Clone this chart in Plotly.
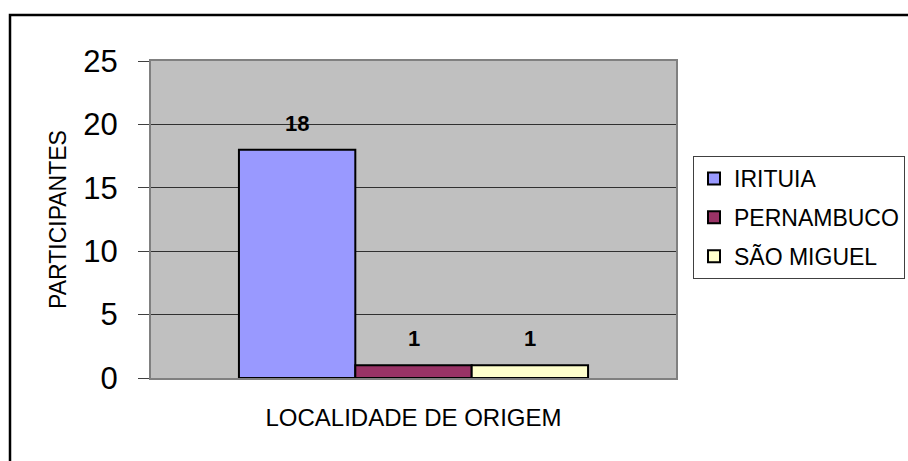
import plotly.graph_objects as go

# ---- data ----
series_names = ["IRITUIA", "PERNAMBUCO", "SÃO MIGUEL"]
series_values = [18, 1, 1]
series_colors = ["#9999FF", "#993366", "#FFFFCC"]
category = [""]
y_ticks = [0, 5, 10, 15, 20, 25]
x_title = "LOCALIDADE DE ORIGEM"
y_title = "PARTICIPANTES"

FONT = "Arial, Liberation Sans, sans-serif"
W, H = 908, 461
ML, MR, MT, MB = 151, 908 - 676, 61, 461 - 378
BARGAP = 0.335

fig = go.Figure()
for name, val, col in zip(series_names, series_values, series_colors):
    fig.add_trace(go.Bar(
        x=category, y=[val], name=name,
        marker=dict(color=col, line=dict(color="black", width=2)),
        legendgroup=name,
        hoverinfo="name+y",
    ))

# data labels, positioned through the category axis (group offsets from bargap)
n = len(series_names)
w = (1 - BARGAP) / n
for i, val in enumerate(series_values):
    fig.add_annotation(
        x=(i - (n - 1) / 2) * w, y=val, xref="x", yref="y",
        text=f"<b>{val}</b>", showarrow=False,
        yanchor="bottom", yshift=12,
        font=dict(family=FONT, size=22, color="black"),
    )

pw = W - ML - MR
ph = H - MT - MB
# outer chart border (left at x=10, top at y=15, running off the page)
fig.add_shape(
    type="rect", xref="paper", yref="paper",
    x0=(10 - ML) / pw, x1=(W + 10 - ML) / pw,
    y0=(H - MB - (H + 10)) / ph, y1=(H - MB - 15) / ph,
    line=dict(color="black", width=2.5), layer="below",
)

fig.update_layout(
    width=W, height=H,
    margin=dict(l=ML, r=MR, t=MT, b=MB, pad=0, autoexpand=False),
    paper_bgcolor="white", plot_bgcolor="#C0C0C0",
    barmode="group", bargap=BARGAP, bargroupgap=0,
    font=dict(family=FONT, color="black"),
    showlegend=True,
    legend=dict(
        x=(693 - ML) / pw, y=(H - MB - 156) / ph,
        xanchor="left", yanchor="top",
        bgcolor="white", bordercolor="#404040", borderwidth=1,
        font=dict(family=FONT, size=23, color="black"),
        tracegroupgap=6, traceorder="grouped",
        itemwidth=30,
    ),
    xaxis=dict(
        showticklabels=False, ticks="", showgrid=False,
        showline=True, linecolor="#808080", linewidth=2, mirror=True,
        title=dict(text=x_title, font=dict(family=FONT, size=24), standoff=30),
        fixedrange=True,
    ),
    yaxis=dict(
        range=[0, 25], tickvals=y_ticks, ticks="outside", ticklen=11,
        tickcolor="#404040", tickwidth=1,
        ticklabelstandoff=14,
        tickfont=dict(family=FONT, size=31),
        showgrid=True, gridcolor="#303030", gridwidth=1,
        showline=True, linecolor="#808080", linewidth=2, mirror=True,
        zeroline=False,
        title=dict(text=y_title, font=dict(family=FONT, size=23), standoff=10),
        fixedrange=True,
    ),
)

fig.write_html(
    "out.html",
    config={"displayModeBar": False},
    post_script="document.body.style.margin='0';document.body.style.overflow='hidden';",
)
